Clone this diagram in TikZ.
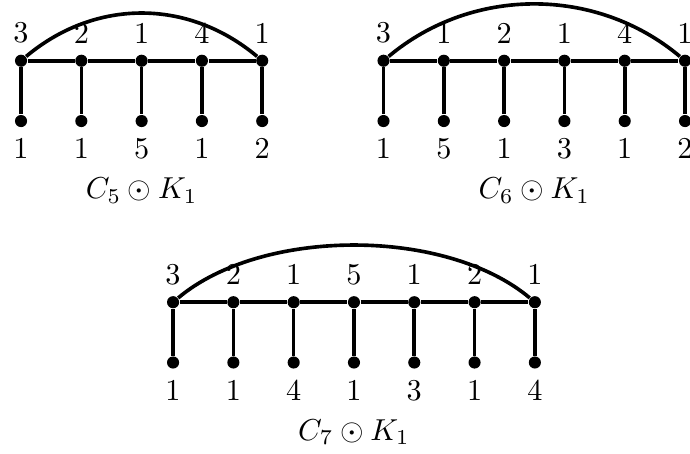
\documentclass[tikz,border=0pt]{standalone}
\begin{document}
\begin{tikzpicture}[
        vtx/.style={circle,fill,inner sep=0pt,minimum size=4pt},
        cv/.style={vtx,label distance=-1.5pt,label=above:#1},
        pv/.style={vtx,label distance=0.5pt,label=below:#1},
        xsh/.style={xshift=3.5mm}
    ]

    \tikzset{
        node distance=7mm,
    }

    \useasboundingbox (0,0) rectangle (8.01,-5.27);

    % C_5
    \node[cv=3] (a1) at (0.244,-0.705) {};
    \node[cv=2,right of=a1] (a2) {};
    \node[cv=1,right of=a2] (a3) {};
    \node[cv=4,right of=a3] (a4) {};
    \node[cv=1,right of=a4] (a5) {};
    \node[pv=1,below of=a1] (b1) {};
    \node[pv=1,below of=a2] (b2) {};
    \node[pv=5,below of=a3] (b3) {};
    \node[pv=1,below of=a4] (b4) {};
    \node[pv=2,below of=a5] (b5) {};
    \node[node distance=8.1mm,below of=b3] (capA) {$C_5 \odot K_1$};

    % C_6
    \node[cv=3] (c1) at (4.452,-0.705) {};
    \node[cv=1,right of=c1] (c2) {};
    \node[cv=2,right of=c2] (c3) {};
    \node[cv=1,right of=c3] (c4) {};
    \node[cv=4,right of=c4] (c5) {};
    \node[cv=1,right of=c5] (c6) {};
    \node[pv=1,below of=c1] (d1) {};
    \node[pv=5,below of=c2] (d2) {};
    \node[pv=1,below of=c3] (d3) {};
    \node[pv=3,below of=c4] (d4) {};
    \node[pv=1,below of=c5] (d5) {};
    \node[pv=2,below of=c6] (d6) {};
    \node[node distance=8.1mm,below of=d3,xsh] (capB) {$C_6 \odot K_1$};

    % C_7
    \node[cv=3] (e1) at (2.009,-3.508) {};
    \node[cv=2,right of=e1] (e2) {};
    \node[cv=1,right of=e2] (e3) {};
    \node[cv=5,right of=e3] (e4) {};
    \node[cv=1,right of=e4] (e5) {};
    \node[cv=2,right of=e5] (e6) {};
    \node[cv=1,right of=e6] (e7) {};
    \node[pv=1,below of=e1] (f1) {};
    \node[pv=1,below of=e2] (f2) {};
    \node[pv=4,below of=e3] (f3) {};
    \node[pv=1,below of=e4] (f4) {};
    \node[pv=3,below of=e5] (f5) {};
    \node[pv=1,below of=e6] (f6) {};
    \node[pv=4,below of=e7] (f7) {};
    \node[node distance=8.1mm,below of=f4] (capC) {$C_7 \odot K_1$};

    \draw[very thick]
        (a1) -- (a2) -- (a3) -- (a4) -- (a5)
        (a1) edge[bend left=40] (a5)
        (a1) -- (b1) (a2) -- (b2) (a3) -- (b3) (a4) -- (b4) (a5) -- (b5)
        (c1) -- (c2) -- (c3) -- (c4) -- (c5) -- (c6)
        (c1) edge[bend left=40,looseness=0.96] (c6)
        (c1) -- (d1) (c2) -- (d2) (c3) -- (d3) (c4) -- (d4) (c5) -- (d5) (c6) -- (d6)
        (e1) -- (e2) -- (e3) -- (e4) -- (e5) -- (e6) -- (e7)
        (e1) edge[bend left=40,looseness=0.8] (e7)
        (e1) -- (f1) (e2) -- (f2) (e3) -- (f3) (e4) -- (f4) (e5) -- (f5) (e6) -- (f6) (e7) -- (f7)
        ;

\end{tikzpicture}
\end{document}
